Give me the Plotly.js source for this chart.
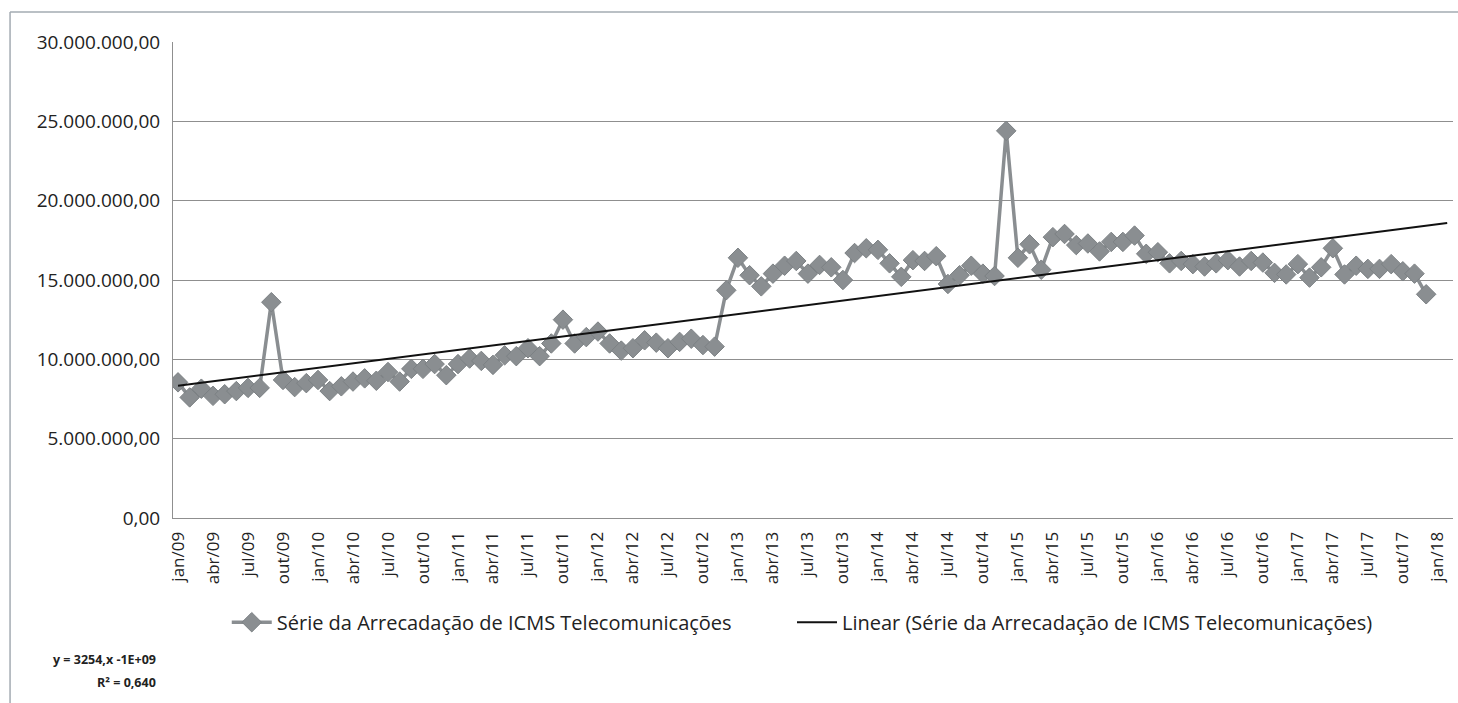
<!DOCTYPE html>
<html>
<head>
<meta charset="utf-8">
<script src="https://cdn.plot.ly/plotly-3.0.1.min.js"></script>
<style>
  html, body { margin: 0; padding: 0; background: #ffffff; }
  #chart { width: 1458px; height: 703px; }
</style>
</head>
<body>
<div id="chart"></div>
<script>
// Monthly ICMS Telecom revenue, jan/2009 .. dez/2017 (R$)
const values = [
  8550000, 7600000, 8150000, 7700000, 7800000, 8000000, 8200000, 8200000, 13600000, 8700000, 8250000, 8500000,
  8700000, 8000000, 8300000, 8600000, 8800000, 8650000, 9200000, 8600000, 9400000, 9400000, 9700000, 9000000,
  9700000, 10050000, 9900000, 9650000, 10250000, 10200000, 10700000, 10200000, 11000000, 12500000, 11000000, 11400000,
  11750000, 11000000, 10550000, 10700000, 11200000, 11050000, 10700000, 11100000, 11300000, 10900000, 10800000, 14350000,
  16400000, 15300000, 14600000, 15400000, 15900000, 16200000, 15400000, 15950000, 15800000, 15000000, 16700000, 17000000,
  16900000, 16050000, 15200000, 16250000, 16200000, 16500000, 14750000, 15300000, 15900000, 15400000, 15250000, 24400000,
  16400000, 17250000, 15650000, 17700000, 17900000, 17200000, 17300000, 16800000, 17400000, 17400000, 17800000, 16650000,
  16750000, 16050000, 16200000, 16000000, 15850000, 16050000, 16250000, 15850000, 16200000, 16100000, 15450000, 15350000,
  16000000, 15150000, 15800000, 17000000, 15350000, 15900000, 15700000, 15700000, 16000000, 15550000, 15400000, 14100000
];

// x-axis tick labels (every 3 months, jan/09 .. jan/18)
const xTickLabels = [
  'jan/09','abr/09','jul/09','out/09','jan/10','abr/10','jul/10','out/10',
  'jan/11','abr/11','jul/11','out/11','jan/12','abr/12','jul/12','out/12',
  'jan/13','abr/13','jul/13','out/13','jan/14','abr/14','jul/14','out/14',
  'jan/15','abr/15','jul/15','out/15','jan/16','abr/16','jul/16','out/16',
  'jan/17','abr/17','jul/17','out/17','jan/18'
];

const yTickValues = [0, 5000000, 10000000, 15000000, 20000000, 25000000, 30000000];
const yTickLabels = ['0,00','5.000.000,00','10.000.000,00','15.000.000,00','20.000.000,00','25.000.000,00','30.000.000,00'];

const seriesName = 'Série da Arrecadação de ICMS Telecomunicações';
const trendName = 'Linear (Série da Arrecadação de ICMS Telecomunicações)';
const eqLine1 = 'y = 3254,x -1E+09';
const eqLine2 = 'R² = 0,640';

// x positions: month index
const xs = values.map((_, i) => i);
const xTickVals = xTickLabels.map((_, i) => i * 3);

// ordinary least squares trend
const n = values.length;
const mx = xs.reduce((a, b) => a + b, 0) / n;
const my = values.reduce((a, b) => a + b, 0) / n;
let sxy = 0, sxx = 0;
for (let i = 0; i < n; i++) { sxy += (xs[i] - mx) * (values[i] - my); sxx += (xs[i] - mx) ** 2; }
const slope = sxy / sxx;
const intercept = my - slope * mx;
const trendX = [0, 108.8];
const trendY = trendX.map(x => intercept + slope * x);

const grey = '#8a8e91';
const font = 'Open Sans, Noto Sans, sans-serif';

const data = [
  {
    type: 'scatter', mode: 'lines+markers', name: seriesName, legend: 'legend',
    x: xs, y: values,
    line: { color: grey, width: 3.5 },
    marker: { symbol: 'diamond', size: 15, color: grey, line: { color: '#7c8184', width: 1 } }
  },
  {
    type: 'scatter', mode: 'lines', name: trendName, legend: 'legend2',
    x: trendX, y: trendY,
    line: { color: '#111111', width: 2 }
  }
];

const legendCommon = {
  orientation: 'h', xanchor: 'left', y: -0.178, yanchor: 'top',
  font: { family: font, size: 20, color: '#222222' },
  itemwidth: 40,
  bgcolor: 'rgba(0,0,0,0)'
};

const layout = {
  width: 1458, height: 703,
  margin: { l: 173, r: 5, t: 42, b: 185 },
  paper_bgcolor: '#ffffff', plot_bgcolor: '#ffffff',
  font: { family: font, color: '#222222', size: 19 },
  showlegend: true,
  legend: Object.assign({}, legendCommon, { x: 0.042 }),
  legend2: Object.assign({}, legendCommon, { x: 0.4836 }),
  xaxis: {
    range: [-0.43, 109.3],
    tickmode: 'array', tickvals: xTickVals, ticktext: xTickLabels,
    tickangle: -90,
    tickfont: { family: font, size: 17, color: '#222222' },
    showgrid: false, zeroline: false,
    showline: true, linecolor: '#8f8f8f', linewidth: 1,
    ticks: '', ticklabelstandoff: 6
  },
  yaxis: {
    range: [0, 30000000],
    tickmode: 'array', tickvals: yTickValues, ticktext: yTickLabels,
    tickfont: { family: font, size: 19, color: '#222222' },
    showgrid: true, gridcolor: '#8f8f8f', gridwidth: 1,
    zeroline: false,
    showline: true, linecolor: '#8f8f8f', linewidth: 1,
    ticks: '', ticklabelstandoff: 8
  },
  shapes: [
    { type: 'line', xref: 'paper', yref: 'paper', x0: -0.1273, x1: 1.01, y0: 1.063, y1: 1.063,
      line: { color: '#a3abb2', width: 1.5 } },
    { type: 'line', xref: 'paper', yref: 'paper', x0: -0.1273, x1: -0.1273, y0: 1.063, y1: -0.42,
      line: { color: '#a3abb2', width: 1.5 } }
  ],
  annotations: [
    { xref: 'paper', yref: 'paper', x: -0.0117, y: -0.297, xanchor: 'right', yanchor: 'middle',
      text: '<b>' + eqLine1 + '</b>', showarrow: false, align: 'right',
      font: { family: font, size: 12.5, color: '#222222' } },
    { xref: 'paper', yref: 'paper', x: -0.0117, y: -0.345, xanchor: 'right', yanchor: 'middle',
      text: '<b>' + eqLine2 + '</b>', showarrow: false, align: 'right',
      font: { family: font, size: 12.5, color: '#222222' } }
  ]
};

Plotly.newPlot('chart', data, layout, { displayModeBar: false, staticPlot: true });
</script>
</body>
</html>
